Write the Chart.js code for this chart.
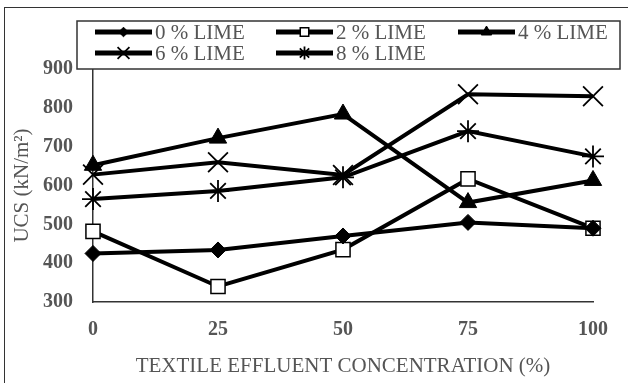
<!DOCTYPE html>
<html>
<head>
<meta charset="utf-8">
<script src="https://cdn.jsdelivr.net/npm/chart.js@4.4.1/dist/chart.umd.min.js"></script>
<style>
  html, body { margin: 0; padding: 0; background: #fff; }
  #wrap { position: relative; width: 628px; height: 383px; overflow: hidden; }
  #frame { position: absolute; left: 4px; top: 7px; width: 700px; height: 500px;
           border-left: 1.5px solid #333; border-top: 1.5px solid #333; }
  canvas { position: absolute; left: 0; top: 0; }
</style>
</head>
<body>
<div id="wrap">
  <div id="frame"></div>
  <canvas id="chart" width="628" height="383"></canvas>
</div>
<script>
// chart data
const concentrations = ['0', '25', '50', '75', '100'];
const lime0 = [425, 434, 470, 505, 490];
const lime2 = [482, 340, 435, 617, 490];
const lime4 = [652, 722, 784, 556, 613];
const lime6 = [628, 660, 627, 835, 830];
const lime8 = [565, 586, 621, 740, 675];
const yTicks = [300, 400, 500, 600, 700, 800, 900];

const FONT = "'Liberation Serif', 'Times New Roman', serif";
const TEXT_GRAY = '#555555';

function makeSeries(label, data, style, radius, fill, borderW) {
    return {
        label: label,
        data: data,
        borderColor: '#000',
        borderWidth: 4,
        pointStyle: style,
        pointRadius: radius,
        pointBackgroundColor: fill,
        pointBorderColor: '#000',
        pointBorderWidth: borderW,
        fill: false,
        tension: 0,
        clip: 20
    };
}

const datasets = [
    makeSeries('0 % LIME', lime0, 'rectRot', 8, '#000', 1),
    makeSeries('2 % LIME', lime2, 'rect', 10, '#fff', 1.5),
    makeSeries('4 % LIME', lime4, 'triangle', 10, '#000', 1),
    makeSeries('6 % LIME', lime6, 'crossRot', 14, '#000', 1.8),
    makeSeries('8 % LIME', lime8, 'star', 11, '#000', 1.8)
];

// draw one marker the same way the points are drawn, only smaller
function drawMarker(ctx, ds, x, y) {
    ctx.save();
    ctx.fillStyle = ds.pointBackgroundColor;
    ctx.strokeStyle = '#000';
    ctx.lineWidth = ds.pointBorderWidth;
    Chart.helpers.drawPoint(ctx, {
        pointStyle: ds.pointStyle,
        radius: ds.pointRadius * 0.6,
        rotation: 0,
        borderWidth: ds.pointBorderWidth
    }, x, y);
    ctx.restore();
}

// Legend drawn in a box at the top, line + marker + text
const boxLegend = {
    id: 'boxLegend',
    afterDraw(chart) {
        const ctx = chart.ctx;
        ctx.save();
        ctx.fillStyle = '#fff';
        ctx.fillRect(77, 21, 543, 48);
        ctx.strokeStyle = '#333';
        ctx.lineWidth = 1.5;
        ctx.strokeRect(77, 21, 543, 48);

        const cols = [95, 276, 458];
        const rows = [32, 53];
        chart.data.datasets.forEach((ds, i) => {
            const x = cols[i % 3];
            const y = rows[Math.floor(i / 3)];
            ctx.strokeStyle = '#000';
            ctx.lineWidth = 5;
            ctx.beginPath();
            ctx.moveTo(x, y);
            ctx.lineTo(x + 57, y);
            ctx.stroke();
            drawMarker(ctx, ds, x + 28.5, y);
            ctx.fillStyle = TEXT_GRAY;
            ctx.font = '21px ' + FONT;
            ctx.textBaseline = 'middle';
            ctx.textAlign = 'left';
            ctx.fillText(ds.label, x + 60, y + 1);
        });
        ctx.restore();
    }
};

new Chart(document.getElementById('chart'), {
    type: 'line',
    data: { labels: concentrations, datasets: datasets },
    options: {
        responsive: false,
        animation: false,
        layout: { padding: { left: 0, right: 35, top: 69, bottom: 0 } },
        plugins: {
            legend: { display: false },
            tooltip: { enabled: false }
        },
        scales: {
            x: {
                offset: false,
                grid: { display: false, drawTicks: false },
                border: { display: true, color: '#333', width: 1.5 },
                ticks: {
                    padding: 16,
                    maxRotation: 0,
                    color: TEXT_GRAY,
                    font: { family: FONT, size: 20, weight: 'bold' }
                },
                title: {
                    display: true,
                    text: 'TEXTILE EFFLUENT CONCENTRATION (%)',
                    color: TEXT_GRAY,
                    padding: { top: 0, bottom: 4 },
                    font: { family: FONT, size: 21 }
                },
                afterFit(scale) { scale.height = 81; }
            },
            y: {
                min: 300,
                max: 900,
                grid: { display: false, drawTicks: false },
                border: { display: true, color: '#333', width: 1.5 },
                afterBuildTicks(scale) { scale.ticks = yTicks.map(v => ({ value: v })); },
                ticks: {
                    padding: 20,
                    color: TEXT_GRAY,
                    font: { family: FONT, size: 20, weight: 'bold' }
                },
                title: {
                    display: true,
                    text: 'UCS (kN/m²)',
                    color: TEXT_GRAY,
                    padding: { top: 10, bottom: 0 },
                    font: { family: FONT, size: 21 }
                },
                afterFit(scale) { scale.width = 93; }
            }
        }
    },
    plugins: [boxLegend]
});
</script>
</body>
</html>
